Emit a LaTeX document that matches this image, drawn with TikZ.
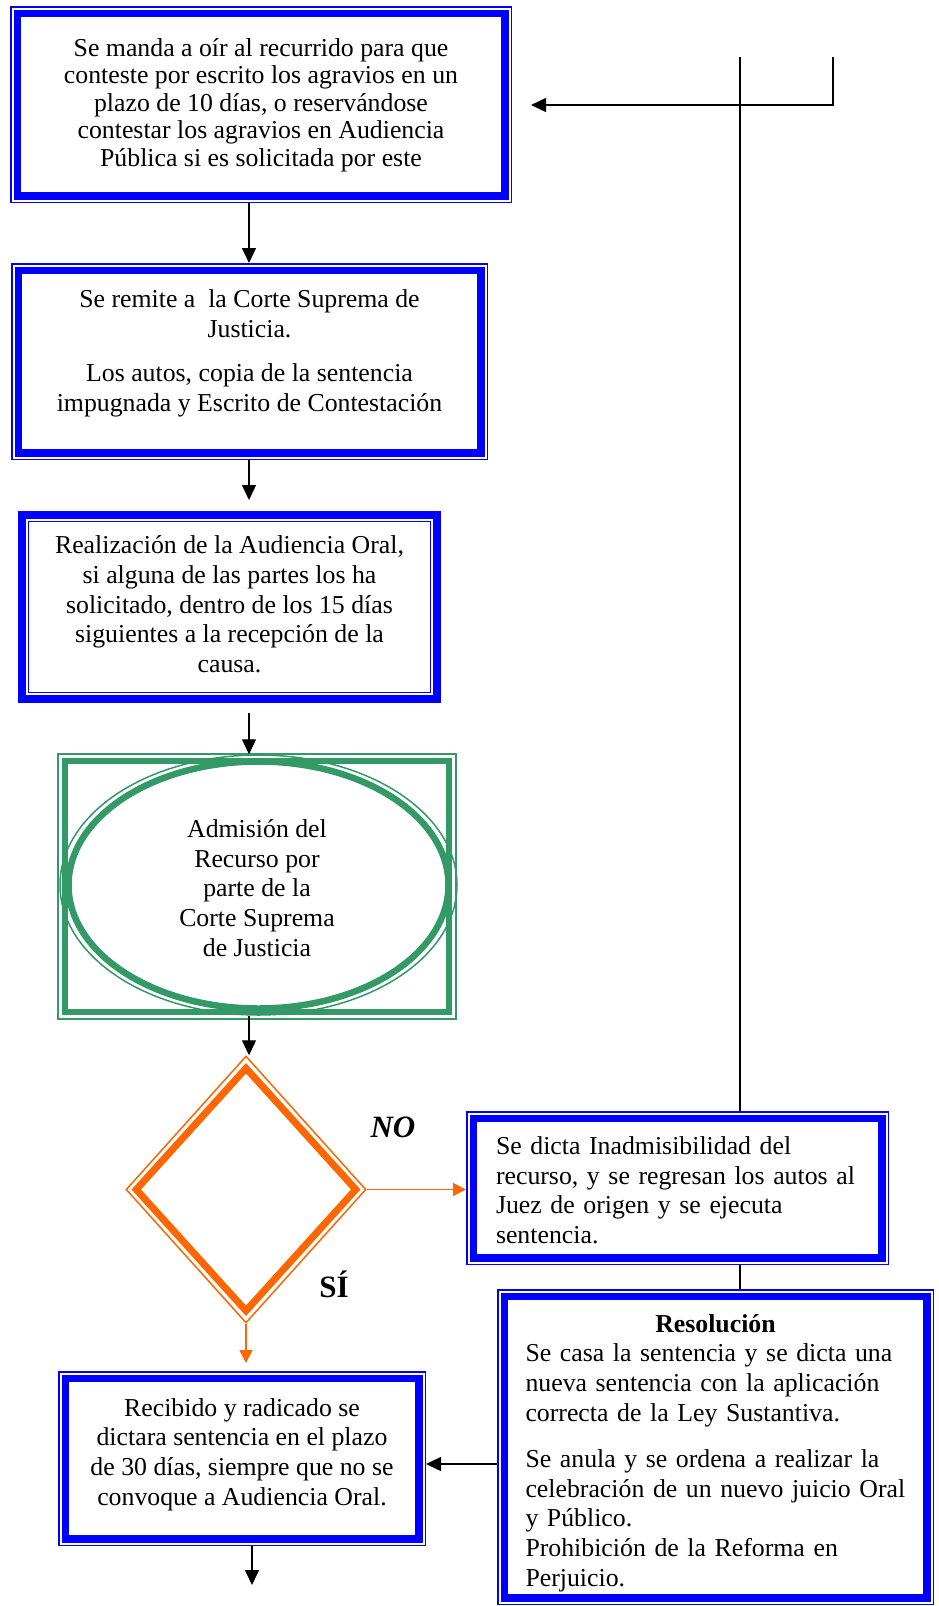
\documentclass[tikz,border=0pt]{standalone}
\usepackage{fontspec}
\setmainfont{Liberation Serif}
\usetikzlibrary{arrows.meta,shapes.geometric,calc}
\definecolor{bl}{RGB}{0,0,255}
\definecolor{gr}{RGB}{51,153,102}
\definecolor{og}{RGB}{255,102,0}
\newcommand\insetrect[3]{%
  \draw[#2] ([xshift=#3pt,yshift=-#3pt]#1.north west) rectangle ([xshift=-#3pt,yshift=#3pt]#1.south east);}
\tikzset{
  frame/.style={rectangle, inner sep=0pt, outer sep=0pt},
  thinb/.style={draw=bl, line width=1.5pt},
  thickb/.style={draw=bl, line width=7.5pt},
  thickc/.style={draw=bl, line width=8pt},
  thing/.style={draw=gr, line width=1.5pt},
  thickg/.style={draw=gr, line width=6.5pt},
  txt/.style={align=center, font=\fontsize{25.8}{29.7}\selectfont, inner sep=0pt},
  ltxt/.style={align=left, font=\fontsize{25.8}{29.7}\selectfont, inner sep=0pt},
  lab/.style={font=\fontsize{31}{31}\selectfont\bfseries, anchor=base, inner sep=0pt},
  arr/.style={draw=black, line width=1.4pt, -{Triangle[length=15pt,width=14pt]}},
  oarr/.style={draw=og, line width=1.5pt, -{Triangle[length=13pt,width=13pt]}},
  plain/.style={draw=black, line width=1.4pt},
}
\begin{document}
\begin{tikzpicture}[x=1pt,y=-1pt]
\useasboundingbox (0,0) rectangle (939,1606);

% frames
\node[frame, minimum width=502pt, minimum height=197pt] (B1) at (261,104.5) {};
\insetrect{B1}{thinb}{0.75}
\insetrect{B1}{thickb}{7.25}

\node[frame, minimum width=477pt, minimum height=197pt] (B2) at (249.5,361.5) {};
\insetrect{B2}{thinb}{0.75}
\insetrect{B2}{thickb}{7.25}

\node[frame, minimum width=423pt, minimum height=192pt] (B3) at (229.5,607) {};
\insetrect{B3}{thickc}{4}
\insetrect{B3}{thinb}{10.5}

\node[frame, minimum width=400pt, minimum height=267pt] (B4) at (257,886.5) {};
\insetrect{B4}{thing}{1}
\insetrect{B4}{thickg}{8}
\node[ellipse, draw=gr, line width=1.5pt, minimum width=397pt, minimum height=260pt, inner sep=0pt] (E) at (258.5,885) {};
\draw[gr, line width=6.5pt] (E.center) ellipse [x radius=190pt, y radius=123.5pt];

\node[diamond, draw=og, line width=1.5pt, minimum width=240pt, minimum height=267pt, inner sep=0pt] (D) at (246,1189.5) {};
\draw[og, line width=7pt, line join=miter] ($(D.north)+(0,13)$) -- ($(D.east)+(-11,0)$) -- ($(D.south)+(0,-13)$) -- ($(D.west)+(11,0)$) -- cycle;

\node[frame, minimum width=423pt, minimum height=154pt] (B5) at (677.5,1188) {};
\insetrect{B5}{thinb}{0.75}
\insetrect{B5}{thickb}{7.25}

\node[frame, minimum width=437pt, minimum height=316pt] (B6) at (715.5,1447) {};
\insetrect{B6}{thinb}{0.75}
\insetrect{B6}{thickb}{7.25}

\node[frame, minimum width=368pt, minimum height=175pt] (B7) at (242,1458.5) {};
\insetrect{B7}{thinb}{0.75}
\insetrect{B7}{thickb}{7.25}

% texts
\node[txt, font=\fontsize{25.8}{27.5}\selectfont] (T1) at (261,105) {Se manda a oír al recurrido para que\\conteste por escrito los agravios en un\\plazo de 10 días, o reservándose\\contestar los agravios en Audiencia\\Pública si es solicitada por este};
\node[txt] (T2) at (249.5,353.2) {Se remite a~ la Corte Suprema de\\Justicia.\\[15pt]Los autos, copia de la sentencia\\impugnada y Escrito de Contestación};
\node[txt] (T3) at (229.5,604.5) {Realización de la Audiencia Oral,\\si alguna de las partes los ha\\solicitado, dentro de los 15 días\\siguientes a la recepción de la\\causa.};
\node[txt] (T4) at (257,888) {Admisión del\\Recurso por\\parte de la\\Corte Suprema\\de Justicia};
\node[ltxt, text width=365pt] (T5) at (678.5,1190.2) {\noindent Se dicta Inadmisibilidad del\\recurso, y se regresan los autos al\\Juez de origen y se ejecuta\\sentencia.};
\node[ltxt, text width=380pt] (T6) at (715.5,1453) {\noindent\makebox[\hsize][c]{\bfseries Resolución}\\Se casa la sentencia y se dicta una\\nueva sentencia con la aplicación\\correcta de la Ley Sustantiva.\\[16.5pt]Se anula y se ordena a realizar la\\celebración de un nuevo juicio Oral\\y Público.\\Prohibición de la Reforma en\\Perjuicio.};
\node[txt] (T7) at (242,1454.4) {Recibido y radicado se\\dictara sentencia en el plazo\\de 30 días, siempre que no se\\convoque a Audiencia Oral.};

\node[lab, font=\fontsize{31}{31}\selectfont\bfseries\itshape] (no) at (393,1137) {NO};
\node[lab] (si) at (334,1297) {SÍ};

% connectors
\coordinate (xa) at (249,0);
\coordinate (xr) at (740,0);
\coordinate (yr) at (0,1464);
\coordinate (endb) at (252,1585);
\coordinate (top1) at (740,57);
\coordinate (top2) at (833,57);
\coordinate (ret) at (531,105);

\draw[arr] (B1.south -| xa) -- (B2.north -| xa);
\draw[arr] (B2.south -| xa) -- ($(B3.north -| xa)+(0,-11)$);
\draw[arr] ($(B3.south -| xa)+(0,10)$) -- (E.north -| xa);
\draw[arr] (E.south -| xa) -- (D.north -| xa);
\draw[oarr] (D.south) -- ($(B7.north -| D.south)+(0,-8)$);
\draw[oarr] (D.east) -- (B5.west |- D.east);
\draw[arr] (B7.south -| endb) -- (endb);
\draw[arr] (B6.west |- yr) -- (B7.east |- yr);
\draw[plain] (B5.south -| xr) -- (B6.north -| xr);
\draw[plain] (B5.north -| xr) -- (top1);
\draw[arr] (top2) |- (ret);
\end{tikzpicture}
\end{document}
